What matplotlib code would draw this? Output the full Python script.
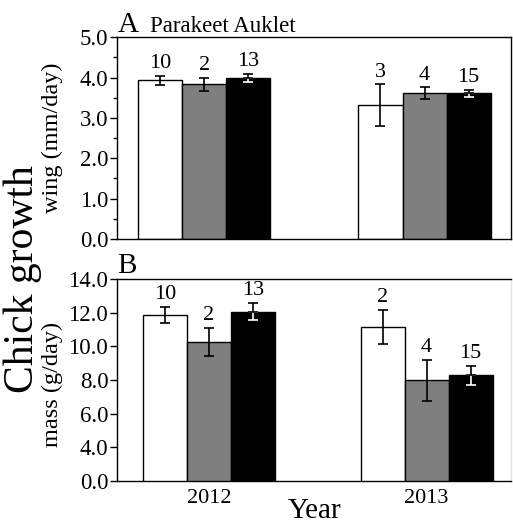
import numpy as np
import matplotlib
matplotlib.use('Agg')
import matplotlib.pyplot as plt
from matplotlib.ticker import MultipleLocator

plt.rcParams['font.family'] = ['Liberation Serif', 'DejaVu Serif']
plt.rcParams['axes.linewidth'] = 1.0
plt.rcParams['xtick.direction'] = 'out'
plt.rcParams['ytick.direction'] = 'out'

#
#   data
#
years = ['2012', '2013']
colors = ['white', '#7f7f7f', 'black']

# wing growth (mm/day), panel A
wing_white = [3.93, 3.31]
wing_gray = [3.84, 3.61]
wing_black = [4.00, 3.61]
wing_white_se = [0.12, 0.52]
wing_gray_se = [0.16, 0.15]
wing_black_se = [0.10, 0.09]
wing_n_white = [10, 3]
wing_n_gray = [2, 4]
wing_n_black = [13, 15]

# mass growth (g/day), panel B
mass_white = [11.86, 11.18]
mass_gray = [10.26, 7.98]
mass_black = [12.08, 8.28]
mass_white_se = [0.48, 1.02]
mass_gray_se = [0.84, 1.24]
mass_black_se = [0.50, 0.55]
mass_n_white = [10, 2]
mass_n_gray = [2, 4]
mass_n_black = [13, 15]

mass_ticks = [2, 4, 6, 8, 10, 12, 14]
mass_ticklabels = ['0.0', '4.0', '6.0', '8.0', '10.0', '12.0', '14.0']


def draw_bars(ax, w, means, errs, ns):
    x = np.arange(len(years))
    for k in range(3):
        xk = x + (k - 1) * w
        ax.bar(xk, means[k], w, bottom=0, color=colors[k], edgecolor='black',
               linewidth=1.0, zorder=2)
        if k == 2:
            # lower half of the error bar shows white on the black bar
            ax.errorbar(xk, means[k], yerr=[errs[k], np.zeros(len(x))], fmt='none',
                        ecolor='white', elinewidth=1.2, capsize=3.6, capthick=1.2, zorder=3)
            ax.errorbar(xk, means[k], yerr=[np.zeros(len(x)), errs[k]], fmt='none',
                        ecolor='black', elinewidth=1.2, capsize=3.6, capthick=1.2, zorder=4)
        else:
            ax.errorbar(xk, means[k], yerr=errs[k], fmt='none', ecolor='black',
                        elinewidth=1.2, capsize=3.6, capthick=1.2, zorder=3)
        for xi, m, e, n in zip(xk, means[k], errs[k], ns[k]):
            ax.annotate(str(n), (xi, m + e), xytext=(0, 2), textcoords='offset points',
                        ha='center', va='bottom', fontsize=16)


fig = plt.figure(figsize=(5.13, 5.26), dpi=100)

#
#   panel A
#
axA = fig.add_axes([0.2287, 0.5456, 0.7675, 0.3835])
draw_bars(axA, 0.2,
          [wing_white, wing_gray, wing_black],
          [wing_white_se, wing_gray_se, wing_black_se],
          [wing_n_white, wing_n_gray, wing_n_black])
axA.set_xlim(-0.3945, 1.3927)
axA.set_ylim(0, 5)
axA.yaxis.set_minor_locator(MultipleLocator(0.5))
axA.set_yticks(np.arange(0, 5.1, 1.0))
axA.set_yticklabels(['%.1f' % v for v in np.arange(0, 5.1, 1.0)])
axA.set_xticks([])
axA.tick_params(axis='y', which='major', labelsize=16.5, length=5, width=1.0, pad=1.5)
axA.tick_params(axis='y', which='minor', length=3, width=1.0)
axA.set_ylabel('wing (mm/day)', fontsize=17.5)
axA.yaxis.set_label_coords(-0.138, 0.5)

#
#   panel B
#
axB = fig.add_axes([0.2287, 0.0861, 0.7675, 0.3829])
draw_bars(axB, 0.202,
          [mass_white, mass_gray, mass_black],
          [mass_white_se, mass_gray_se, mass_black_se],
          [mass_n_white, mass_n_gray, mass_n_black])
axB.set_xlim(-0.421, 1.388)
axB.set_ylim(2, 14)
axB.set_yticks(mass_ticks)
axB.set_yticklabels(mass_ticklabels)
axB.set_xticks([0, 1])
axB.set_xticklabels(years)
axB.tick_params(axis='y', labelsize=16.5, length=5, width=1.0, pad=1.5)
axB.tick_params(axis='x', labelsize=16, length=0, pad=6)
axB.spines['right'].set_color('#e4e4e4')
axB.set_ylabel('mass (g/day)', fontsize=17.5)
axB.yaxis.set_label_coords(-0.138, 0.48)

#
#   labels
#
fig.text(118 / 513, 1 - 31.7 / 526, 'A', fontsize=21, ha='left', va='baseline')
fig.text(150 / 513, 1 - 31.7 / 526, 'Parakeet Auklet', fontsize=16.5, ha='left', va='baseline')
fig.text(117 / 513, 1 - 273.3 / 526, 'B', fontsize=21, ha='left', va='baseline')
fig.text(23 / 513, 1 - 279 / 526, 'Chick growth', fontsize=30, rotation=90,
         ha='center', va='center')
fig.text(315 / 513, 1 - 518 / 526, 'Year', fontsize=21, ha='center', va='baseline')

fig.savefig('out.png', dpi=100)
